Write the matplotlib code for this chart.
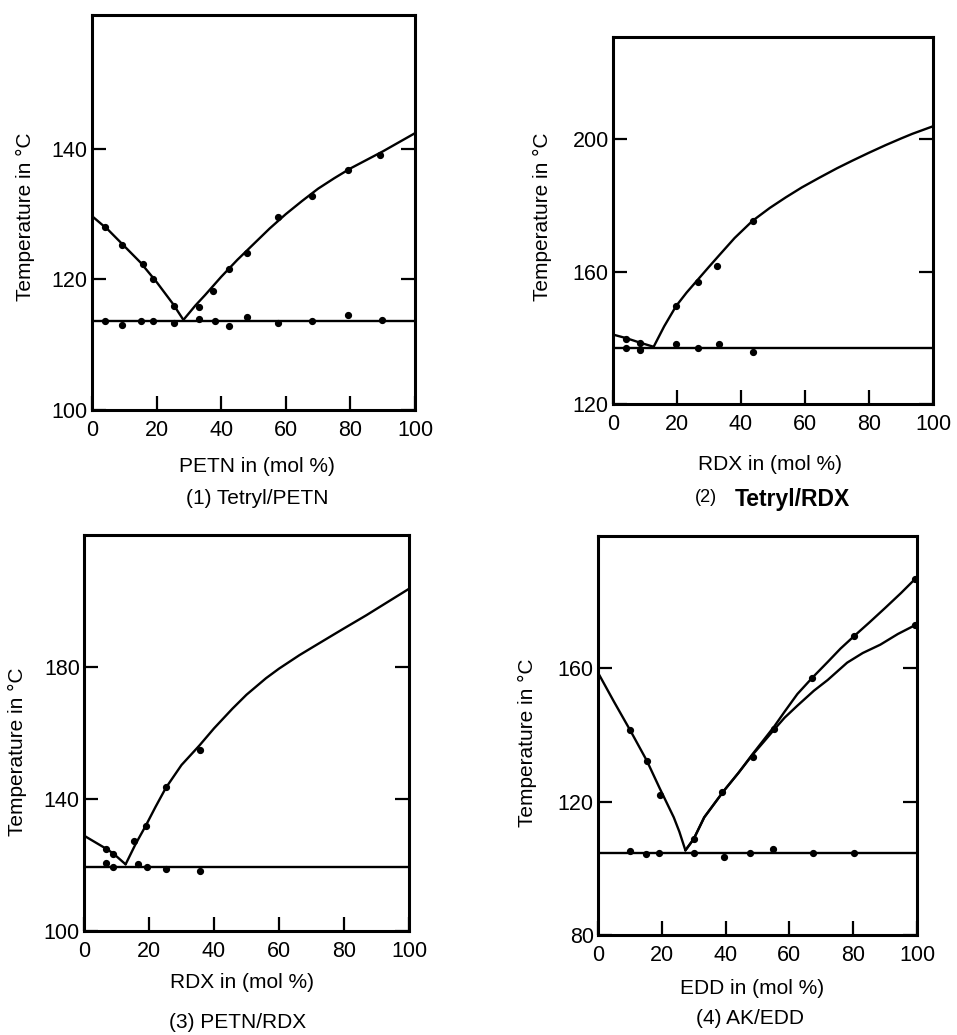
import matplotlib
matplotlib.use("Agg")
import matplotlib.pyplot as plt

plt.rcParams['font.family'] = ['Liberation Sans', 'DejaVu Sans']

W, H = 957, 1035

# ---------------- Panel 1: Tetryl/PETN ----------------
p1_liq_left_x = [0, 5, 10, 15, 20, 25, 28.3]
p1_liq_left_y = [129.7, 127.6, 125.1, 122.6, 119.6, 116.3, 113.8]
p1_liq_right_x = [28.3, 32, 35, 40, 45, 50, 55, 60, 65, 70, 75, 80, 85, 90, 95, 100]
p1_liq_right_y = [113.8, 116.0, 117.6, 120.4, 123.0, 125.4, 127.8, 130.0, 132.0, 133.9,
                  135.5, 137.0, 138.3, 139.6, 141.0, 142.4]
p1_eut_x = [0, 100]
p1_eut_y = [113.7, 113.7]
p1_pts_x = [4.1, 9.3, 15.9, 18.8, 25.4,
            33.0, 37.6, 42.3, 47.9, 57.7, 68.0, 79.4, 89.2,
            4.1, 9.3, 15.1, 19.0, 25.4, 33.2, 38.0, 42.3, 47.9, 57.7, 68.0, 79.4, 89.7]
p1_pts_y = [128.1, 125.2, 122.3, 120.0, 115.9,
            115.8, 118.2, 121.6, 124.1, 129.6, 132.8, 136.8, 139.1,
            113.6, 113.0, 113.6, 113.6, 113.3, 113.9, 113.7, 112.8, 114.2, 113.4, 113.7, 114.6, 113.8]

# ---------------- Panel 2: Tetryl/RDX ----------------
p2_liq_left_x = [0, 4.2, 8.3, 12.7]
p2_liq_left_y = [141.0, 139.9, 138.6, 137.3]
p2_liq_right_x = [12.7, 16, 19.7, 23, 26.5, 30, 33.2, 38, 43.6, 49, 54, 59, 64.4, 70,
                  74.8, 80, 85.2, 90, 93.5, 100]
p2_liq_right_y = [137.3, 143.5, 149.6, 153.7, 157.6, 161.5, 165.0, 170.2, 175.4, 179.3,
                  182.5, 185.5, 188.4, 191.3, 193.6, 196.0, 198.3, 200.3, 201.7, 204.0]
p2_eut_x = [0, 100]
p2_eut_y = [136.8, 136.8]
p2_pts_x = [4.2, 8.3, 19.75, 26.5, 32.4, 43.7,
            4.2, 8.3, 19.75, 26.5, 33.0, 43.7]
p2_pts_y = [139.8, 138.6, 149.6, 157.0, 161.7, 175.4,
            136.8, 136.3, 138.0, 137.0, 138.0, 135.6]

# ---------------- Panel 3: PETN/RDX ----------------
p3_liq_left_x = [0, 6.7, 9.0, 12.8]
p3_liq_left_y = [128.9, 125.0, 123.5, 120.2]
p3_liq_right_x = [12.8, 15.9, 19, 22, 25.2, 30, 35.5, 40, 45.7, 50, 56, 60, 66.3, 70,
                  76.6, 80, 86.9, 90, 100]
p3_liq_right_y = [120.2, 126.4, 131.9, 137.6, 143.4, 150.3, 156.2, 161.4, 167.4, 171.6,
                  176.6, 179.5, 183.6, 185.8, 189.7, 191.7, 195.7, 197.6, 203.7]
p3_eut_x = [0, 100]
p3_eut_y = [119.4, 119.4]
p3_pts_x = [6.7, 9.0, 15.4, 19.0, 25.2, 35.7,
            6.7, 9.0, 16.5, 19.4, 25.3, 35.7]
p3_pts_y = [125.0, 123.3, 127.4, 131.9, 143.7, 154.8,
            120.5, 119.5, 120.2, 119.3, 118.8, 118.1]

# ---------------- Panel 4: AK/EDD ----------------
p4_liq_left_x = [0, 5, 10.1, 15.3, 19.3, 23.75, 25.5, 27.4]
p4_liq_left_y = [158.7, 150.0, 141.4, 132.3, 124.1, 115.3, 111.0, 105.4]
p4_liq_upper_x = [27.4, 30, 33.3, 39.4, 44, 48.4, 52, 55.2, 58.5, 62.5, 67.2, 72, 76, 80.2,
                  85, 90, 95, 99.5]
p4_liq_upper_y = [105.4, 108.8, 115.3, 123.2, 128.6, 134.2, 138.6, 142.5, 147.0, 152.3,
                  157.2, 161.9, 165.9, 169.6, 173.7, 178.1, 182.6, 186.9]
p4_liq_lower_x = [27.4, 30, 33.3, 39.4, 44, 48.4, 52, 55.2, 58.5, 62.5, 67.7, 72, 78.1,
                  83, 88.5, 94, 99.5]
p4_liq_lower_y = [105.4, 108.8, 115.3, 123.2, 128.6, 134.0, 138.0, 141.6, 145.2, 148.8,
                  153.3, 156.5, 161.7, 164.6, 167.1, 170.3, 173.0]
p4_eut_x = [0, 100]
p4_eut_y = [104.7, 104.7]
p4_pts_x = [10.1, 15.3, 19.3, 30.0, 38.9, 48.5, 55.2, 67.2, 80.2, 99.5, 99.5,
            9.9, 14.9, 19.0, 30.0, 39.4, 47.7, 55.0, 67.3, 80.2]
p4_pts_y = [141.4, 132.3, 122.0, 108.8, 122.9, 133.5, 141.7, 157.2, 169.6, 186.9, 173.0,
            105.2, 104.4, 104.7, 104.7, 103.5, 104.7, 105.7, 104.6, 104.6]

x_ticks = [0, 20, 40, 60, 80, 100]

fig = plt.figure(figsize=(W / 100, H / 100), dpi=100)


def make_ax(left, right, top, bottom):
    return fig.add_axes([left / W, 1 - bottom / H, (right - left) / W, (bottom - top) / H])


def style(ax, ylim, yticks):
    ax.set_xlim(0, 100)
    ax.set_ylim(*ylim)
    ax.set_xticks(x_ticks)
    ax.set_yticks(yticks)
    ax.tick_params(direction='in', length=10, width=1.6, labelsize=15.5,
                   right=True, top=False, pad=3, colors='black')
    ax.tick_params(axis='x', pad=7)
    for s in ax.spines.values():
        s.set_linewidth(2.2)
        s.set_color('black')


def draw(ax, curves, eut, pts):
    for cx, cy in curves:
        ax.plot(cx, cy, color='black', lw=1.7, solid_capstyle='round',
                solid_joinstyle='round')
    ax.plot(eut[0], eut[1], color='black', lw=1.7)
    ax.plot(pts[0], pts[1], 'o', color='black', ms=4.2, ls='none')


lab_fs = 15

# Panel 1
ax1 = make_ax(92, 415, 15, 410)
style(ax1, (100, 160.5), [100, 120, 140])
draw(ax1, [(p1_liq_left_x, p1_liq_left_y), (p1_liq_right_x, p1_liq_right_y)],
     (p1_eut_x, p1_eut_y), (p1_pts_x, p1_pts_y))
fig.text(257 / W, 1 - 467 / H, "PETN in (mol %)", ha='center', va='center', fontsize=lab_fs)
fig.text(257 / W, 1 - 498 / H, "(1) Tetryl/PETN", ha='center', va='center', fontsize=lab_fs)
fig.text(25 / W, 1 - 217 / H, "Temperature in °C", ha='center', va='center',
         rotation=90, fontsize=lab_fs)

# Panel 2
ax2 = make_ax(613, 933, 37, 404)
style(ax2, (120, 231), [120, 160, 200])
draw(ax2, [(p2_liq_left_x, p2_liq_left_y), (p2_liq_right_x, p2_liq_right_y)],
     (p2_eut_x, p2_eut_y), (p2_pts_x, p2_pts_y))
fig.text(770 / W, 1 - 465 / H, "RDX in (mol %)", ha='center', va='center', fontsize=lab_fs)
fig.text(706 / W, 1 - 498 / H, "(2)", ha='center', va='center', fontsize=13)
fig.text(792 / W, 1 - 500 / H, "Tetryl/RDX", ha='center', va='center', fontsize=16.5,
         fontweight='bold')
fig.text(542 / W, 1 - 217 / H, "Temperature in °C", ha='center', va='center',
         rotation=90, fontsize=lab_fs)

# Panel 3
ax3 = make_ax(84, 409, 535, 931)
style(ax3, (100, 220), [100, 140, 180])
draw(ax3, [(p3_liq_left_x, p3_liq_left_y), (p3_liq_right_x, p3_liq_right_y)],
     (p3_eut_x, p3_eut_y), (p3_pts_x, p3_pts_y))
fig.text(242 / W, 1 - 983 / H, "RDX in (mol %)", ha='center', va='center', fontsize=lab_fs)
fig.text(238 / W, 1 - 1023 / H, "(3) PETN/RDX", ha='center', va='center', fontsize=lab_fs)
fig.text(17 / W, 1 - 752 / H, "Temperature in °C", ha='center', va='center',
         rotation=90, fontsize=lab_fs)

# Panel 4
ax4 = make_ax(598, 917, 536, 935)
style(ax4, (80, 199.7), [80, 120, 160])
draw(ax4, [(p4_liq_left_x, p4_liq_left_y), (p4_liq_upper_x, p4_liq_upper_y),
           (p4_liq_lower_x, p4_liq_lower_y)],
     (p4_eut_x, p4_eut_y), (p4_pts_x, p4_pts_y))
fig.text(752 / W, 1 - 988 / H, "EDD in (mol %)", ha='center', va='center', fontsize=lab_fs)
fig.text(750 / W, 1 - 1019 / H, "(4) AK/EDD", ha='center', va='center', fontsize=lab_fs)
fig.text(527 / W, 1 - 743 / H, "Temperature in °C", ha='center', va='center',
         rotation=90, fontsize=lab_fs)

fig.savefig("out.png", dpi=100)
